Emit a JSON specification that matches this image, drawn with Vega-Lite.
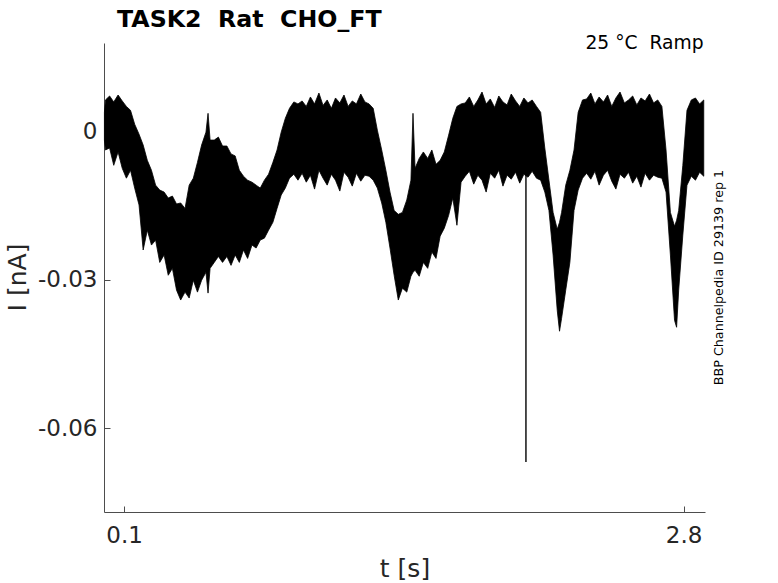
{
  "$schema": "https://vega.github.io/schema/vega-lite/v6.json",
  "width": 601,
  "height": 469,
  "autosize": "none",
  "padding": {"left": 104, "top": 43, "right": 73, "bottom": 71},
  "background": "white",
  "config": {
    "view": {"stroke": null},
    "font": "DejaVu Sans"
  },
  "title": {
    "text": "TASK2 \u00a0Rat \u00a0CHO_FT",
    "anchor": "start",
    "frame": "group",
    "dx": 13,
    "offset": -18,
    "baseline": "alphabetic",
    "font": "DejaVu Sans",
    "fontSize": 23.7,
    "fontWeight": "bold",
    "color": "black"
  },
  "layer": [
    {
      "data": {
        "values": [
          {"t": 0.005, "hi": 0.0038, "lo": -0.0018},
          {"t": 0.010, "hi": 0.0063, "lo": -0.0038},
          {"t": 0.030, "hi": 0.0071, "lo": -0.0034},
          {"t": 0.050, "hi": 0.0059, "lo": -0.0069},
          {"t": 0.071, "hi": 0.0073, "lo": -0.0042},
          {"t": 0.091, "hi": 0.0061, "lo": -0.0075},
          {"t": 0.111, "hi": 0.0050, "lo": -0.0095},
          {"t": 0.131, "hi": 0.0042, "lo": -0.0079},
          {"t": 0.151, "hi": 0.0014, "lo": -0.0115},
          {"t": 0.172, "hi": -0.0006, "lo": -0.0149},
          {"t": 0.192, "hi": -0.0028, "lo": -0.0240},
          {"t": 0.212, "hi": -0.0059, "lo": -0.0200},
          {"t": 0.232, "hi": -0.0079, "lo": -0.0230},
          {"t": 0.252, "hi": -0.0109, "lo": -0.0220},
          {"t": 0.272, "hi": -0.0119, "lo": -0.0265},
          {"t": 0.293, "hi": -0.0123, "lo": -0.0250},
          {"t": 0.313, "hi": -0.0135, "lo": -0.0291},
          {"t": 0.333, "hi": -0.0131, "lo": -0.0277},
          {"t": 0.353, "hi": -0.0147, "lo": -0.0321},
          {"t": 0.373, "hi": -0.0145, "lo": -0.0341},
          {"t": 0.394, "hi": -0.0156, "lo": -0.0325},
          {"t": 0.414, "hi": -0.0109, "lo": -0.0337},
          {"t": 0.434, "hi": -0.0095, "lo": -0.0301},
          {"t": 0.454, "hi": -0.0063, "lo": -0.0325},
          {"t": 0.474, "hi": -0.0028, "lo": -0.0301},
          {"t": 0.495, "hi": -0.0002, "lo": -0.0285},
          {"t": 0.505, "hi": 0.0036, "lo": -0.0327},
          {"t": 0.515, "hi": -0.0018, "lo": -0.0277},
          {"t": 0.535, "hi": -0.0018, "lo": -0.0265},
          {"t": 0.555, "hi": -0.0012, "lo": -0.0253},
          {"t": 0.575, "hi": -0.0030, "lo": -0.0265},
          {"t": 0.596, "hi": -0.0030, "lo": -0.0253},
          {"t": 0.616, "hi": -0.0046, "lo": -0.0271},
          {"t": 0.636, "hi": -0.0050, "lo": -0.0250},
          {"t": 0.656, "hi": -0.0079, "lo": -0.0265},
          {"t": 0.676, "hi": -0.0091, "lo": -0.0240},
          {"t": 0.696, "hi": -0.0099, "lo": -0.0257},
          {"t": 0.717, "hi": -0.0103, "lo": -0.0230},
          {"t": 0.737, "hi": -0.0109, "lo": -0.0236},
          {"t": 0.757, "hi": -0.0115, "lo": -0.0220},
          {"t": 0.777, "hi": -0.0099, "lo": -0.0216},
          {"t": 0.797, "hi": -0.0087, "lo": -0.0200},
          {"t": 0.818, "hi": -0.0063, "lo": -0.0184},
          {"t": 0.838, "hi": -0.0038, "lo": -0.0156},
          {"t": 0.858, "hi": -0.0002, "lo": -0.0129},
          {"t": 0.878, "hi": 0.0026, "lo": -0.0115},
          {"t": 0.898, "hi": 0.0046, "lo": -0.0095},
          {"t": 0.919, "hi": 0.0059, "lo": -0.0087},
          {"t": 0.939, "hi": 0.0055, "lo": -0.0099},
          {"t": 0.959, "hi": 0.0061, "lo": -0.0085},
          {"t": 0.979, "hi": 0.0050, "lo": -0.0103},
          {"t": 0.999, "hi": 0.0069, "lo": -0.0089},
          {"t": 1.019, "hi": 0.0055, "lo": -0.0117},
          {"t": 1.040, "hi": 0.0077, "lo": -0.0079},
          {"t": 1.060, "hi": 0.0052, "lo": -0.0095},
          {"t": 1.080, "hi": 0.0063, "lo": -0.0109},
          {"t": 1.100, "hi": 0.0046, "lo": -0.0087},
          {"t": 1.120, "hi": 0.0067, "lo": -0.0099},
          {"t": 1.141, "hi": 0.0057, "lo": -0.0121},
          {"t": 1.161, "hi": 0.0073, "lo": -0.0083},
          {"t": 1.181, "hi": 0.0050, "lo": -0.0093},
          {"t": 1.201, "hi": 0.0061, "lo": -0.0111},
          {"t": 1.221, "hi": 0.0055, "lo": -0.0085},
          {"t": 1.242, "hi": 0.0075, "lo": -0.0101},
          {"t": 1.262, "hi": 0.0059, "lo": -0.0089},
          {"t": 1.282, "hi": 0.0055, "lo": -0.0091},
          {"t": 1.302, "hi": 0.0046, "lo": -0.0099},
          {"t": 1.322, "hi": 0.0002, "lo": -0.0115},
          {"t": 1.343, "hi": -0.0038, "lo": -0.0145},
          {"t": 1.363, "hi": -0.0079, "lo": -0.0184},
          {"t": 1.383, "hi": -0.0123, "lo": -0.0236},
          {"t": 1.403, "hi": -0.0160, "lo": -0.0291},
          {"t": 1.423, "hi": -0.0168, "lo": -0.0341},
          {"t": 1.443, "hi": -0.0164, "lo": -0.0317},
          {"t": 1.464, "hi": -0.0139, "lo": -0.0325},
          {"t": 1.484, "hi": -0.0099, "lo": -0.0293},
          {"t": 1.494, "hi": 0.0036, "lo": -0.0285},
          {"t": 1.504, "hi": -0.0075, "lo": -0.0281},
          {"t": 1.524, "hi": -0.0055, "lo": -0.0293},
          {"t": 1.544, "hi": -0.0042, "lo": -0.0265},
          {"t": 1.565, "hi": -0.0055, "lo": -0.0277},
          {"t": 1.585, "hi": -0.0038, "lo": -0.0244},
          {"t": 1.605, "hi": -0.0067, "lo": -0.0257},
          {"t": 1.625, "hi": -0.0059, "lo": -0.0212},
          {"t": 1.645, "hi": -0.0042, "lo": -0.0196},
          {"t": 1.666, "hi": -0.0008, "lo": -0.0170},
          {"t": 1.686, "hi": 0.0026, "lo": -0.0135},
          {"t": 1.706, "hi": 0.0050, "lo": -0.0190},
          {"t": 1.726, "hi": 0.0055, "lo": -0.0103},
          {"t": 1.746, "hi": 0.0057, "lo": -0.0091},
          {"t": 1.766, "hi": 0.0069, "lo": -0.0081},
          {"t": 1.787, "hi": 0.0050, "lo": -0.0107},
          {"t": 1.807, "hi": 0.0063, "lo": -0.0089},
          {"t": 1.827, "hi": 0.0079, "lo": -0.0099},
          {"t": 1.847, "hi": 0.0055, "lo": -0.0123},
          {"t": 1.867, "hi": 0.0065, "lo": -0.0085},
          {"t": 1.888, "hi": 0.0048, "lo": -0.0095},
          {"t": 1.908, "hi": 0.0071, "lo": -0.0079},
          {"t": 1.928, "hi": 0.0059, "lo": -0.0111},
          {"t": 1.948, "hi": 0.0053, "lo": -0.0089},
          {"t": 1.968, "hi": 0.0075, "lo": -0.0097},
          {"t": 1.989, "hi": 0.0061, "lo": -0.0083},
          {"t": 2.009, "hi": 0.0050, "lo": -0.0105},
          {"t": 2.029, "hi": 0.0067, "lo": -0.0087},
          {"t": 2.049, "hi": 0.0057, "lo": -0.0093},
          {"t": 2.069, "hi": 0.0063, "lo": -0.0081},
          {"t": 2.090, "hi": 0.0050, "lo": -0.0095},
          {"t": 2.110, "hi": 0.0038, "lo": -0.0099},
          {"t": 2.130, "hi": -0.0034, "lo": -0.0123},
          {"t": 2.150, "hi": -0.0099, "lo": -0.0160},
          {"t": 2.170, "hi": -0.0164, "lo": -0.0250},
          {"t": 2.190, "hi": -0.0198, "lo": -0.0362},
          {"t": 2.201, "hi": -0.0184, "lo": -0.0404},
          {"t": 2.211, "hi": -0.0164, "lo": -0.0378},
          {"t": 2.231, "hi": -0.0109, "lo": -0.0321},
          {"t": 2.251, "hi": -0.0079, "lo": -0.0265},
          {"t": 2.271, "hi": -0.0038, "lo": -0.0160},
          {"t": 2.291, "hi": 0.0038, "lo": -0.0119},
          {"t": 2.312, "hi": 0.0063, "lo": -0.0095},
          {"t": 2.332, "hi": 0.0065, "lo": -0.0085},
          {"t": 2.352, "hi": 0.0077, "lo": -0.0097},
          {"t": 2.372, "hi": 0.0055, "lo": -0.0081},
          {"t": 2.392, "hi": 0.0069, "lo": -0.0109},
          {"t": 2.413, "hi": 0.0059, "lo": -0.0089},
          {"t": 2.433, "hi": 0.0073, "lo": -0.0079},
          {"t": 2.453, "hi": 0.0050, "lo": -0.0101},
          {"t": 2.473, "hi": 0.0067, "lo": -0.0117},
          {"t": 2.493, "hi": 0.0079, "lo": -0.0087},
          {"t": 2.514, "hi": 0.0057, "lo": -0.0095},
          {"t": 2.534, "hi": 0.0063, "lo": -0.0083},
          {"t": 2.554, "hi": 0.0071, "lo": -0.0105},
          {"t": 2.574, "hi": 0.0053, "lo": -0.0091},
          {"t": 2.594, "hi": 0.0067, "lo": -0.0113},
          {"t": 2.614, "hi": 0.0061, "lo": -0.0085},
          {"t": 2.635, "hi": 0.0075, "lo": -0.0099},
          {"t": 2.655, "hi": 0.0057, "lo": -0.0089},
          {"t": 2.675, "hi": 0.0063, "lo": -0.0093},
          {"t": 2.695, "hi": 0.0050, "lo": -0.0095},
          {"t": 2.715, "hi": -0.0038, "lo": -0.0123},
          {"t": 2.736, "hi": -0.0164, "lo": -0.0250},
          {"t": 2.756, "hi": -0.0192, "lo": -0.0382},
          {"t": 2.766, "hi": -0.0180, "lo": -0.0396},
          {"t": 2.776, "hi": -0.0160, "lo": -0.0321},
          {"t": 2.796, "hi": -0.0069, "lo": -0.0210},
          {"t": 2.816, "hi": 0.0042, "lo": -0.0109},
          {"t": 2.837, "hi": 0.0063, "lo": -0.0091},
          {"t": 2.857, "hi": 0.0067, "lo": -0.0099},
          {"t": 2.877, "hi": 0.0055, "lo": -0.0083},
          {"t": 2.897, "hi": 0.0063, "lo": -0.0091}
        ]
      },
      "mark": {"type": "area", "color": "black", "stroke": "black", "strokeWidth": 0.8, "strokeJoin": "miter"},
      "encoding": {
        "x": {
          "field": "t",
          "type": "quantitative",
          "scale": {"domain": [0.003, 2.903], "nice": false, "zero": false},
          "axis": {
            "values": [0.1, 2.8],
            "format": ".1f",
            "title": "t [s]",
            "titleFontSize": 25,
            "titleFontWeight": "normal",
            "titleColor": "#262626",
            "titleBaseline": "alphabetic",
            "titleY": 64,
            "labelFontSize": 23,
            "labelColor": "#262626",
            "labelBaseline": "alphabetic",
            "labelPadding": 36,
            "labelFlush": false,
            "tickSize": -6,
            "tickColor": "#4d4d4d",
            "domainColor": "#4d4d4d",
            "grid": false
          }
        },
        "y": {
          "field": "lo",
          "type": "quantitative",
          "scale": {"domain": [-0.0769, 0.0178], "nice": false, "zero": false},
          "axis": {
            "values": [-0.06, -0.03, 0],
            "labelExpr": "datum.value == 0 ? '0' : replace(format(datum.value, '.2f'), '\u2212', '-')",
            "title": "I [nA]",
            "titleFontSize": 25,
            "titleFontWeight": "normal",
            "titleColor": "#262626",
            "titleBaseline": "alphabetic",
            "titleX": -79,
            "titleY": 234,
            "labelFontSize": 23,
            "labelColor": "#262626",
            "labelPadding": 13,
            "labelFlush": false,
            "tickSize": -6,
            "tickColor": "#4d4d4d",
            "domainColor": "#4d4d4d",
            "grid": false
          }
        },
        "y2": {"field": "hi"}
      }
    },
    {
      "data": {"values": [{"t": 2.039, "lo": -0.0668, "hi": -0.008}]},
      "mark": {"type": "rule", "color": "black", "strokeWidth": 1.4},
      "encoding": {
        "x": {
          "field": "t",
          "type": "quantitative",
          "axis": {
            "orient": "top",
            "title": "25 °C \u00a0Ramp",
            "titleFontSize": 18.7,
            "titleFontWeight": "normal",
            "titleColor": "black",
            "titleAlign": "right",
            "titleBaseline": "alphabetic",
            "titleX": 599,
            "titleY": 5,
            "labels": false,
            "ticks": false,
            "domain": false,
            "grid": false
          }
        },
        "y": {
          "field": "lo",
          "type": "quantitative",
          "axis": {
            "orient": "right",
            "title": "BBP Channelpedia ID 29139 rep 1",
            "titleFontSize": 12.7,
            "titleFontWeight": "normal",
            "titleColor": "black",
            "titleAngle": 270,
            "titleBaseline": "alphabetic",
            "titleX": 17,
            "titleY": 234,
            "labels": false,
            "ticks": false,
            "domain": false,
            "grid": false
          }
        },
        "y2": {"field": "hi"}
      }
    }
  ],
  "resolve": {"axis": {"x": "independent", "y": "independent"}}
}
